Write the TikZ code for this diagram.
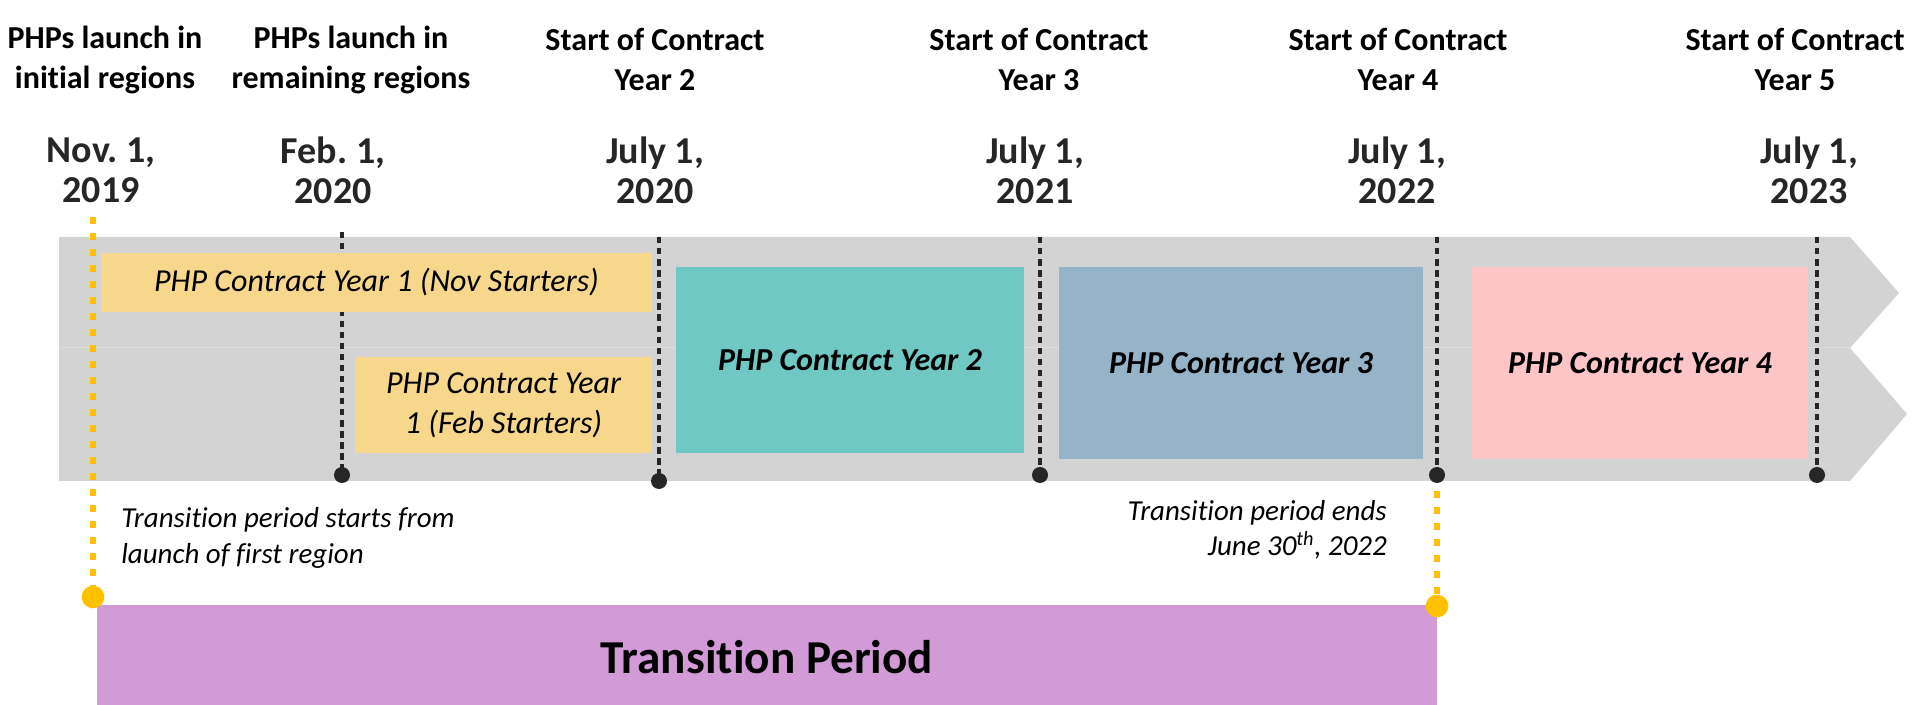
\documentclass[tikz,border=0pt]{standalone}
\usepackage{fontspec}
\setmainfont{Carlito}[Ligatures=NoCommon]
\frenchspacing
\definecolor{bandgray}{HTML}{D3D3D3}
\definecolor{bandline}{HTML}{DCDCDC}
\definecolor{yelbox}{HTML}{F7D78B}
\definecolor{tealbox}{HTML}{70C8C5}
\definecolor{bluebox}{HTML}{95B4C7}
\definecolor{pinkbox}{HTML}{FDC5C6}
\definecolor{purpbox}{HTML}{D29AD6}
\definecolor{goldc}{HTML}{FFC000}
\definecolor{darkc}{HTML}{262626}
\pgfdeclarelayer{bandlayer}
\pgfdeclarelayer{linelayer}
\pgfsetlayers{bandlayer,linelayer,main}
\begin{document}
\begin{tikzpicture}[x=0.75pt,y=-0.75pt,
  head/.style={font=\bfseries\fontsize{24}{30}\selectfont, align=center, inner sep=0pt, text=black},
  datelbl/.style={font=\bfseries\fontsize{28.5}{30}\selectfont, align=center, inner sep=0pt, text=darkc},
  period/.style={inner sep=0pt, draw=none, align=center, font=\itshape\fontsize{24}{30}\selectfont},
  periodb/.style={period, font=\bfseries\itshape\fontsize{24}{30}\selectfont},
  note/.style={inner sep=0pt, font=\itshape\fontsize{21.7}{26.5}\selectfont},
  darkdot/.style={circle, fill=darkc, inner sep=0pt, minimum size=12pt},
  golddot/.style={circle, fill=goldc, inner sep=0pt, minimum size=17pt},
  darkdash/.style={draw=darkc, line width=3.2pt, dash pattern=on 4.8pt off 3.5pt},
  golddash/.style={draw=goldc, line width=5pt, dash pattern=on 5.25pt off 6.75pt}]
\useasboundingbox (0,0) rectangle (1913,705);

% band
\begin{pgfonlayer}{bandlayer}
\fill[bandgray] (59,237) -- (1850,237) -- (1899,293) -- (1850,348) -- (59,348) -- cycle;
\fill[bandgray] (59,348) -- (1850,348) -- (1907,414) -- (1850,481) -- (59,481) -- cycle;
\draw[bandline, line width=0.75pt] (59,348) -- (1850,348);
\end{pgfonlayer}

% headings
\node[head] (h1) at (105,60) {PHPs launch in\\initial regions};
\node[head] (h2) at (351,60) {PHPs launch in\\remaining regions};
\node[head] (h3) at (655,60) {Start of Contract\\Year 2};
\node[head] (h4) at (1039,60) {Start of Contract\\Year 3};
\node[head] (h5) at (1398,60) {Start of Contract\\Year 4};
\node[head] (h6) at (1795,60) {Start of Contract\\Year 5};

% dates
\node[datelbl] (d1) at (101,170) {Nov. 1,\\2019};
\node[datelbl] (d2) at (333,170) {Feb. 1,\\2020};
\node[datelbl] (d3) at (655,170) {July 1,\\2020};
\node[datelbl] (d4) at (1035,170) {July 1,\\2021};
\node[datelbl] (d5) at (1397,170) {July 1,\\2022};
\node[datelbl] (d6) at (1809,170) {July 1,\\2023};

% period boxes
\node[period, fill=yelbox, minimum width=413.25pt, minimum height=44.25pt] (nov) at (376.5,282.5) {PHP Contract Year 1 (Nov Starters)};
\node[period, fill=yelbox, minimum width=222.75pt, minimum height=72pt] (feb) at (503.5,405) {PHP Contract Year\\1 (Feb Starters)};
\node[periodb, fill=tealbox, minimum width=261pt, minimum height=139.5pt] (y2) at (850,360) {PHP Contract Year 2};
\node[periodb, fill=bluebox, minimum width=273pt, minimum height=144pt] (y3) at (1241,363) {PHP Contract Year 3};
\node[periodb, fill=pinkbox, minimum width=252pt, minimum height=144pt] (y4) at (1640,363) {PHP Contract Year 4};
\node[fill=purpbox, inner sep=0pt, minimum width=1005pt, minimum height=78.75pt, font=\bfseries\fontsize{35.4}{40}\selectfont] (trans) at (767,657.5) {Transition Period};

% marker dots
\node[darkdot] (m2) at (342,475) {};
\node[darkdot] (m3) at (659,481) {};
\node[darkdot] (m4) at (1040,475) {};
\node[darkdot] (m5) at (1437,475) {};
\node[darkdot] (m6) at (1817,475) {};
\node[golddot] (gs) at (93,597) {};
\node[golddot] (ge) at (1437,606) {};

\coordinate (t1) at (93,217);
\coordinate (t2) at (342,232);
\coordinate (t3) at (659,237);
\coordinate (t4) at (1040,237);
\coordinate (t5) at (1437,237);
\coordinate (t6) at (1817,237);

\begin{pgfonlayer}{linelayer}
\draw[darkdash] (t2) -- (m2.center);
\draw[darkdash] (t3) -- (m3.center);
\draw[darkdash] (t4) -- (m4.center);
\draw[darkdash] (t5) -- (m5.center);
\draw[darkdash] (t6) -- (m6.center);
\draw[golddash] (t1) -- (gs.center);
\draw[golddash] (m5.center) -- (ge.center);
\end{pgfonlayer}

% notes
\node[note, anchor=west, align=left] (n1) at (121,538) {Transition period starts from\\launch of first region};
\node[note, anchor=east, align=right] (n2) at (1387,529.5) {Transition period ends\\June 30\textsuperscript{th}, 2022};
\end{tikzpicture}
\end{document}
